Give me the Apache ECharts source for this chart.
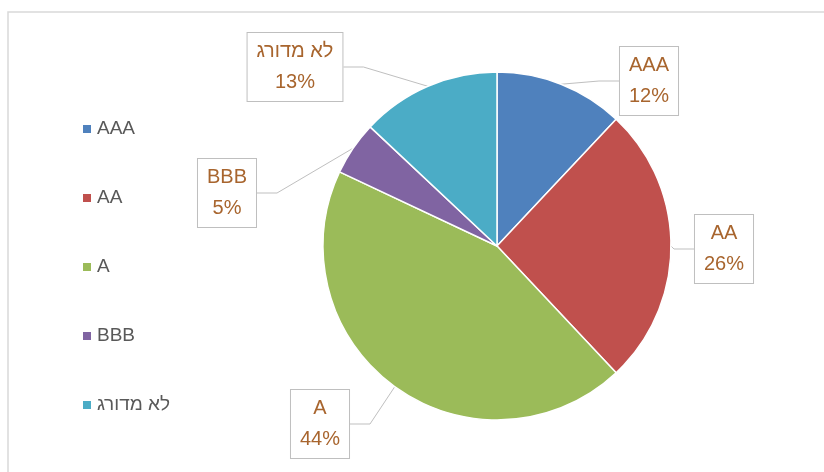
<!DOCTYPE html>
<html>
<head>
<meta charset="utf-8">
<script src="https://cdn.jsdelivr.net/npm/echarts@6/dist/echarts.min.js"></script>
<style>
  html, body { margin: 0; padding: 0; background: #fff; }
  #chart { width: 824px; height: 472px; }
</style>
</head>
<body>
<div id="chart"></div>
<script>
// Rating distribution (percent of portfolio)
const categories = ['AAA', 'AA', 'A', 'BBB', 'לא מדורג'];
const shares = [12, 26, 44, 5, 13];
const colors = ['#4F81BD', '#C0504D', '#9BBB59', '#8064A2', '#4BACC6'];

// Callout box centres (layout only)
const calloutCentres = [[649, 81], [724, 249], [320, 424], [227, 193], [295, 67]];

const chart = echarts.init(document.getElementById('chart'), null, { renderer: 'canvas' });

const FONT = '"Liberation Sans", Arial, sans-serif';

chart.setOption({
  animation: false,
  backgroundColor: '#ffffff',
  color: colors,
  graphic: [{
    type: 'rect',
    shape: { x: 8, y: 12, width: 900, height: 520 },
    style: { fill: 'none', stroke: '#D9D9D9', lineWidth: 1.5 },
    silent: true
  }],
  legend: {
    orient: 'vertical',
    left: 76,
    top: 114,
    icon: 'rect',
    itemWidth: 10,
    itemHeight: 10,
    itemGap: 49,
    itemTextGap: 10,
    data: categories,
    textStyle: { color: '#595959', fontSize: 19, fontFamily: FONT, lineHeight: 20 }
  },
  series: [{
    type: 'pie',
    center: [497, 246],
    radius: 174,
    startAngle: 90,
    clockwise: true,
    avoidLabelOverlap: false,
    itemStyle: { borderColor: '#ffffff', borderWidth: 1.5 },
    label: {
      show: true,
      position: 'outside',
      formatter: p => p.name + '\n' + p.value + '%',
      color: '#A8652E',
      fontSize: 20,
      fontFamily: FONT,
      lineHeight: 31,
      align: 'center',
      backgroundColor: '#ffffff',
      borderColor: '#BFBFBF',
      borderWidth: 1,
      padding: [3, 9]
    },
    labelLine: {
      show: true,
      length: 20,
      length2: 20,
      lineStyle: { color: '#BFBFBF', width: 1 }
    },
    labelLayout: params => {
      const c = calloutCentres[params.dataIndex];
      return { x: c[0], y: c[1], align: 'center', verticalAlign: 'middle' };
    },
    data: categories.map((name, i) => ({ name: name, value: shares[i] }))
  }]
});
</script>
</body>
</html>
